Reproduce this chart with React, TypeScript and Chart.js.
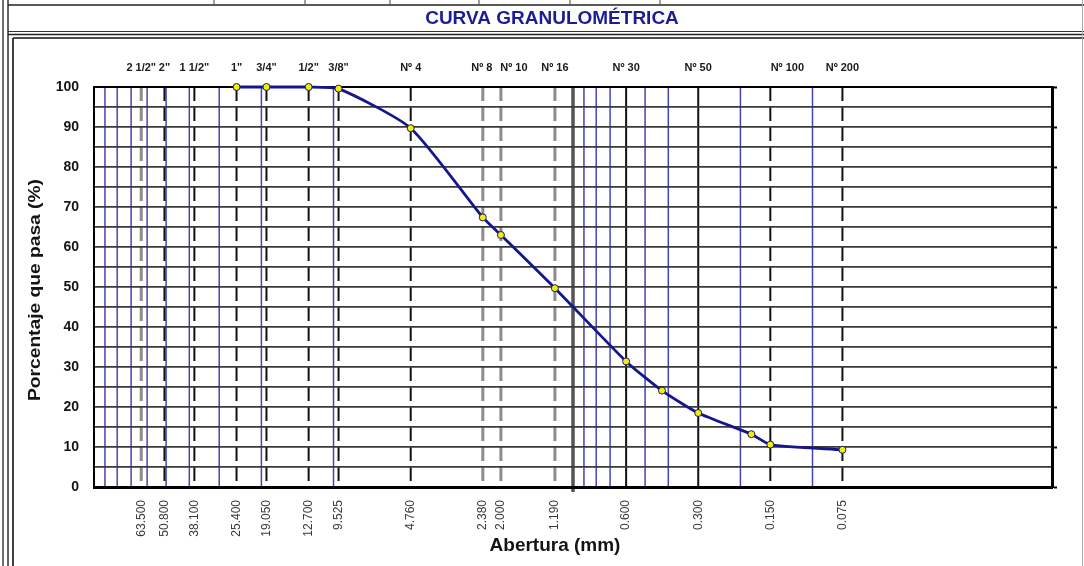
import { useEffect, useRef } from 'react';
import { Chart, registerables } from 'chart.js';

Chart.register(...registerables);

// Sieve series (ASTM) with their openings in mm
const sieveNames = ['2 1/2"', '2"', '1 1/2"', '1"', '3/4"', '1/2"', '3/8"', 'Nº 4', 'Nº 8', 'Nº 10', 'Nº 16', 'Nº 30', 'Nº 50', 'Nº 100', 'Nº 200'];
const sieveOpenings = [63.5, 50.8, 38.1, 25.4, 19.05, 12.7, 9.525, 4.76, 2.38, 2.0, 1.19, 0.6, 0.3, 0.15, 0.075];
// how each sieve's reference line is stroked
const sieveLineKinds = ['faint', 'dash', 'dash', 'dash', 'dash', 'dash', 'dash', 'dash', 'faint', 'faint', 'faint', 'solid', 'solid', 'dash', 'dash'];

// logarithmic minor grid (mm)
const minorGridOpenings = [90, 80, 70, 60, 50, 40, 30, 20, 10, 0.9, 0.8, 0.7, 0.5, 0.4, 0.2, 0.1];
const unitOpening = 1;

// grading test result
const sampleOpenings = [25.4, 19.05, 12.7, 9.525, 4.76, 2.38, 2.0, 1.19, 0.6, 0.425, 0.3, 0.18, 0.15, 0.075];
const percentPassing = [100, 100, 100, 99.6, 89.7, 67.4, 63.0, 49.7, 31.4, 24.1, 18.5, 13.2, 10.6, 9.3];

const FONT = '"Liberation Sans", Arial, sans-serif';

// sieve-name captions sit in text boxes; a few are nudged off their line
const captionNudge: Record<string, number> = { 'Nº 8': -1, 'Nº 10': 13, 'Nº 100': 17 };

const sheetPlugin = {
  id: 'sheetFrame',
  beforeDraw(chart: any) {
    const { ctx, width, height } = chart;
    const seg = (x1: number, y1: number, x2: number, y2: number, color: string, w: number, dash: number[] = []) => {
      ctx.beginPath();
      ctx.strokeStyle = color;
      ctx.lineWidth = w;
      ctx.setLineDash(dash);
      ctx.moveTo(x1, y1);
      ctx.lineTo(x2, y2);
      ctx.stroke();
    };
    ctx.save();
    ctx.fillStyle = '#ffffff';
    ctx.fillRect(0, 0, width, height);

    // spreadsheet cells above the chart
    seg(8, 5, width, 5, '#222', 1.6);
    [214, 305, 390, 479, 570, 660].forEach((x) => seg(x, 0, x, 5, '#444', 1));
    seg(8, 31.5, width, 31.5, '#333', 1.2);
    seg(8, 34.5, width, 34.5, '#222', 1.4);
    seg(13, 38, width, 38, '#111', 1.6);
    seg(3, 0, 3, height, '#333', 1.4);
    seg(8, 0, 8, height, '#222', 1.4);
    seg(13, 38, 13, height, '#111', 1.6);
    seg(width - 1.5, 0, width - 1.5, height, '#aaa', 1);

    // sheet title
    ctx.fillStyle = '#1c1c96';
    ctx.font = `bold 19px ${FONT}`;
    ctx.textAlign = 'center';
    ctx.textBaseline = 'middle';
    ctx.fillText('CURVA GRANULOMÉTRICA', 552, 19);

    // axis titles
    ctx.fillStyle = '#141414';
    ctx.font = `bold 19px ${FONT}`;
    ctx.fillText('Abertura (mm)', 555, 546);
    ctx.save();
    ctx.translate(36, 290);
    ctx.rotate(-Math.PI / 2);
    ctx.scale(1.2, 1);
    ctx.font = `bold 16px ${FONT}`;
    ctx.fillText('Porcentaje que pasa (%)', 0, 0);
    ctx.restore();

    // vertical reference lines and sieve captions through the x scale
    const xs = chart.scales.x;
    const { top, bottom } = chart.chartArea;
    minorGridOpenings.forEach((v) => {
      const px = xs.getPixelForValue(v);
      seg(px, top, px, bottom, '#4545b8', 1.5);
    });
    const pu = xs.getPixelForValue(unitOpening);
    seg(pu, top, pu, bottom + 5, '#555', 3.5);
    ctx.font = `bold 11px ${FONT}`;
    ctx.fillStyle = '#1a1a1a';
    sieveOpenings.forEach((v, i) => {
      const px = xs.getPixelForValue(v);
      const kind = sieveLineKinds[i];
      if (kind === 'solid') seg(px, top, px, bottom, '#111', 2);
      else if (kind === 'faint') seg(px, top, px, bottom, '#8c8c8c', 3, [14, 6]);
      else seg(px, top, px, bottom, '#111', 2, [14, 6]);
      const name = sieveNames[i];
      ctx.fillText(name, px + (captionNudge[name] ?? 0), top - 19);
    });
    ctx.restore();
  },
};

export default function App() {
  const canvasRef = useRef<HTMLCanvasElement | null>(null);

  useEffect(() => {
    const canvas = canvasRef.current;
    if (!canvas) return;

    const sieveTicks = (scale: any) => {
      scale.ticks = sieveOpenings.map((v) => ({ value: v }));
    };

    const chart = new Chart(canvas, {
      type: 'scatter',
      data: {
        datasets: [
          {
            data: sampleOpenings.map((x, i) => ({ x, y: percentPassing[i] })),
            xAxisID: 'x',
            yAxisID: 'y',
            showLine: true,
            borderColor: '#16168c',
            borderWidth: 2.8,
            tension: 0.2,
            pointBackgroundColor: '#f2f200',
            pointBorderColor: '#16168c',
            pointBorderWidth: 1,
            pointRadius: 3.5,
            clip: false,
          } as any,
        ],
      },
      options: {
        responsive: false,
        animation: false,
        devicePixelRatio: 1,
        layout: { padding: { left: 12, right: 22, top: 55, bottom: 0 } },
        plugins: { legend: { display: false }, tooltip: { enabled: false } },
        scales: {
          x: {
            type: 'logarithmic',
            position: 'bottom',
            min: 0.01,
            max: 100,
            reverse: true,
            afterBuildTicks: sieveTicks,
            afterFit: (s: any) => { s.height = 79; },
            ticks: {
              autoSkip: false,
              minRotation: 90,
              maxRotation: 90,
              padding: 13,
              color: '#3a3a3a',
              font: { family: FONT, size: 12 },
              callback: (v: any) => Number(v).toFixed(3),
            },
            grid: { display: false, drawTicks: false },
            border: { color: '#000', width: 3 },
          },
          x2: {
            type: 'logarithmic',
            position: 'top',
            min: 0.01,
            max: 100,
            reverse: true,
            afterBuildTicks: sieveTicks,
            afterFit: (s: any) => { s.height = 32; },
            ticks: { display: false },
            grid: { display: false, drawTicks: false },
            border: { color: '#000', width: 2 },
          },
          y: {
            type: 'linear',
            position: 'left',
            min: 0,
            max: 100,
            afterFit: (s: any) => { s.width = 82; },
            ticks: {
              stepSize: 5,
              padding: 15,
              color: '#141414',
              font: { family: FONT, size: 14, weight: 'bold' },
              callback: (v: any) => (Number(v) % 10 === 0 ? String(v) : ''),
            },
            grid: { color: '#3a3a3a', lineWidth: 1.7, drawTicks: false },
            border: { color: '#000', width: 2 },
          },
          y2: {
            type: 'linear',
            position: 'right',
            min: 0,
            max: 100,
            afterFit: (s: any) => { s.width = 10; },
            ticks: { stepSize: 10, display: false },
            grid: { drawOnChartArea: false, drawTicks: true, tickLength: 5, tickColor: '#000', tickWidth: 2 },
            border: { color: '#000', width: 3 },
          },
        },
      } as any,
      plugins: [sheetPlugin],
    });

    return () => chart.destroy();
  }, []);

  return (
    <div style={{ position: 'fixed', left: 0, top: 0, width: 1084, height: 566, background: '#fff' }}>
      <canvas ref={canvasRef} width={1084} height={566} style={{ display: 'block', width: 1084, height: 566 }} />
    </div>
  );
}
